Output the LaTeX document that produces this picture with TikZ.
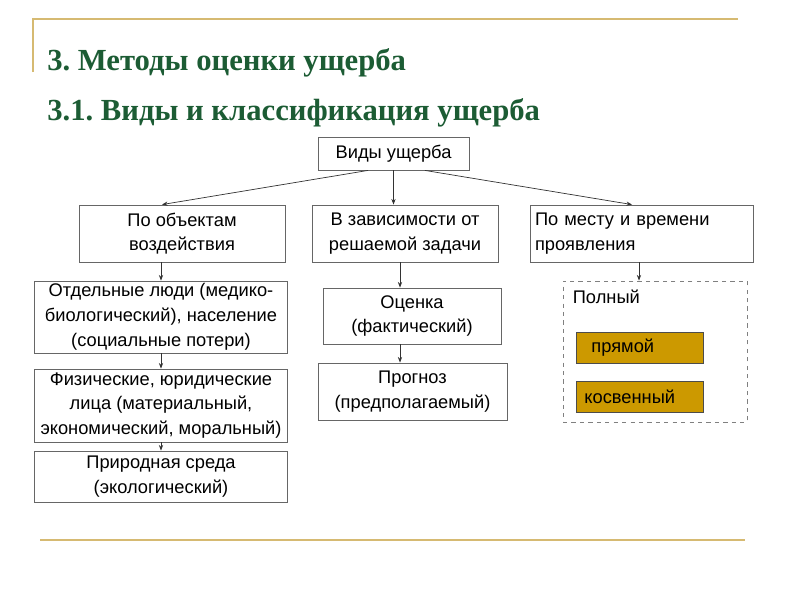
\documentclass[tikz,border=0pt]{standalone}
\usepackage{fontspec}
\setmainfont{Liberation Serif}
\newfontfamily\boxfont{Liberation Sans}
\usetikzlibrary{arrows.meta,positioning}
\frenchspacing

\newdimen\pxu \pxu=0.025cm
\definecolor{titlegreen}{RGB}{28,92,52}
\definecolor{ruleGold}{RGB}{214,186,114}
\definecolor{boxGold}{RGB}{204,153,0}

\tikzset{
  box/.style={draw=gray!80!black, line width=0.6pt, align=center, inner sep=1pt,
    font=\boxfont\fontsize{13}{17.6}\selectfont},
  goldbox/.style={box, fill=boxGold, draw=gray!60!black, align=left, anchor=west,
    minimum height=31\pxu},
  arr/.style={-{Stealth[length=4pt,width=3pt]}, draw=gray!40!black, line width=0.5pt},
  heading/.style={anchor=west, text=titlegreen, inner sep=0pt,
    font=\bfseries\fontsize{21.8}{24}\selectfont},
}

\begin{document}
\begin{tikzpicture}[x=0.025cm, y=-0.025cm]
  \useasboundingbox (0,0) rectangle (800,600);
  \fill[white] (0,0) rectangle (800,600);

  % frame rules
  \draw[ruleGold, line width=1.5pt] (33,72) -- (33,19) -- (738,19);
  \draw[ruleGold, line width=2pt] (40,540) -- (745,540);

  \node[heading] (t1) at (47,62.5) {3. Методы оценки ущерба};
  \node[heading] (t2) at (47,112.5) {3.1. Виды и классификация ущерба};

  % top level
  \node[box, minimum width=151\pxu, minimum height=33\pxu] (vidy) at (393.5,153.5) {Виды ущерба};
  \node[box, minimum width=206\pxu, minimum height=57\pxu] (obj) at (182,233.5) {По объектам\\воздействия};
  \node[box, minimum width=186\pxu, minimum height=57\pxu] (zad) at (405,233.5) {В зависимости от\\решаемой задачи};
  \node[box, align=left, text width=213\pxu, inner xsep=5\pxu, minimum height=57\pxu] (mesto) at (641.5,233.5) {По месту и времени\\проявления};

  % left column
  \node[box, minimum width=253\pxu, minimum height=72\pxu] (lyudi) at (161,317) {Отдельные люди (медико-\\биологический), население\\(социальные потери)};
  \node[box, minimum width=253\pxu, minimum height=73\pxu] (fiz) at (161,405.5) {Физические, юридические\\лица (материальный,\\экономический, моральный)};
  \node[box, minimum width=253\pxu, minimum height=51\pxu] (priroda) at (161,476.5) {Природная среда\\(экологический)};

  % middle column
  \node[box, minimum width=178\pxu, minimum height=56\pxu] (ocenka) at (412,316) {Оценка\\(фактический)};
  \node[box, minimum width=189\pxu, minimum height=57\pxu] (prognoz) at (412.5,391.5) {Прогноз\\(предполагаемый)};

  % right column
  \node[draw=gray, dashed, line width=0.6pt, minimum width=184\pxu, minimum height=141\pxu] (full) at (655,351.5) {};
  \node[box, draw=none, anchor=west] (fulltxt) at (571,297) {Полный};
  \node[goldbox, text width=97\pxu, inner xsep=15\pxu] (pryamoy) at (576,347.5) {прямой};
  \node[goldbox, text width=111\pxu, inner xsep=8\pxu] (kosv) at (576,397) {косвенный};

  % connectors
  \draw[arr] ([xshift=-25.5\pxu]vidy.south) -- ([xshift=-20\pxu]obj.north);
  \draw[arr] (vidy.south) -- (vidy.south |- zad.north);
  \draw[arr] ([xshift=31.5\pxu]vidy.south) -- ([xshift=-9.5\pxu]mesto.north);
  \draw[arr] (obj.south -| lyudi.north) -- (lyudi.north);
  \draw[arr] (lyudi) -- (fiz);
  \draw[arr] (fiz) -- (priroda);
  \draw[arr] ([xshift=-5\pxu]zad.south) -- ([xshift=-5\pxu]zad.south |- ocenka.north);
  \draw[arr] ([xshift=-12\pxu]ocenka.south) -- ([xshift=-12\pxu]ocenka.south |- prognoz.north);
  \draw[arr] ([xshift=-2.5\pxu]mesto.south) -- ([xshift=-2.5\pxu]mesto.south |- full.north);
\end{tikzpicture}
\end{document}
